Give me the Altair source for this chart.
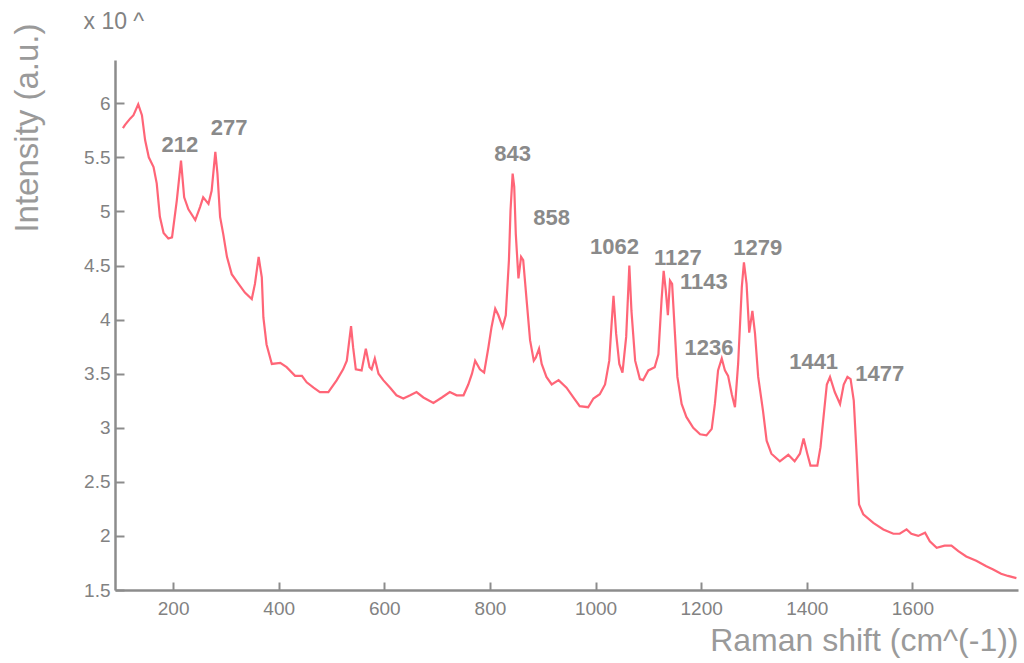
import altair as alt
import pandas as pd

# Raman spectrum (wavenumber in cm^-1, intensity in units of 10^4)
shift = [105, 109, 119, 125, 134, 141, 147, 154, 163, 169, 175, 182, 191, 198,
         207, 215, 221, 229, 242, 251, 257, 267, 273, 280, 284, 289, 295, 302,
         311, 324, 336, 349, 355, 362, 368, 371, 377, 387, 403, 415, 431, 444,
         453, 466, 478, 494, 510, 522, 529, 537, 541, 546, 557, 565, 572, 576,
         582, 589, 598, 611, 623, 636, 649, 661, 674, 693, 709, 724, 737, 750,
         759, 766, 772, 781, 789, 797, 803, 810, 816, 824, 830, 836, 839, 843,
         846, 849, 854, 859, 863, 870, 876, 883, 887, 893, 898, 907, 917, 930,
         945, 958, 970, 986, 996, 1008, 1018, 1026, 1030, 1034, 1039, 1045,
         1051, 1058, 1064, 1068, 1075, 1084, 1090, 1100, 1112, 1119, 1125,
         1129, 1133, 1137, 1141, 1145, 1150, 1155, 1163, 1172, 1185, 1198,
         1210, 1220, 1226, 1232, 1239, 1245, 1251, 1258, 1264, 1270, 1277,
         1281, 1286, 1291, 1297, 1302, 1308, 1317, 1324, 1333, 1349, 1365,
         1377, 1387, 1394, 1401, 1407, 1420, 1426, 1433, 1438, 1444, 1453,
         1463, 1470, 1477, 1483, 1489, 1494, 1499, 1507, 1526, 1545, 1564,
         1576, 1589, 1598, 1611, 1624, 1633, 1646, 1661, 1674, 1687, 1702,
         1721, 1740, 1753, 1768, 1781, 1797]
intensity = [5.77, 5.80, 5.86, 5.89, 5.99, 5.89, 5.66, 5.50, 5.41, 5.26, 4.95,
             4.80, 4.75, 4.76, 5.10, 5.47, 5.13, 5.02, 4.92, 5.04, 5.13, 5.07,
             5.19, 5.55, 5.35, 4.95, 4.79, 4.58, 4.42, 4.33, 4.25, 4.19, 4.33,
             4.58, 4.39, 4.02, 3.77, 3.59, 3.60, 3.56, 3.48, 3.48, 3.42, 3.37,
             3.33, 3.33, 3.44, 3.54, 3.62, 3.94, 3.74, 3.54, 3.53, 3.73, 3.56,
             3.54, 3.64, 3.50, 3.44, 3.37, 3.30, 3.27, 3.30, 3.33, 3.28, 3.23,
             3.28, 3.33, 3.30, 3.30, 3.40, 3.50, 3.62, 3.54, 3.51, 3.74, 3.93,
             4.10, 4.04, 3.93, 4.04, 4.55, 5.01, 5.35, 5.23, 4.79, 4.38, 4.58,
             4.55, 4.15, 3.81, 3.62, 3.65, 3.73, 3.59, 3.47, 3.40, 3.44, 3.37,
             3.28, 3.20, 3.19, 3.27, 3.31, 3.40, 3.62, 3.93, 4.22, 3.87, 3.59,
             3.51, 3.84, 4.50, 4.08, 3.62, 3.45, 3.44, 3.53, 3.56, 3.68, 4.18,
             4.45, 4.27, 4.04, 4.36, 4.33, 3.90, 3.47, 3.22, 3.10, 3.00, 2.94,
             2.93, 2.99, 3.22, 3.53, 3.64, 3.53, 3.48, 3.31, 3.19, 3.59, 4.30,
             4.53, 4.33, 3.88, 4.08, 3.87, 3.47, 3.16, 2.88, 2.76, 2.69, 2.75,
             2.69, 2.76, 2.90, 2.76, 2.65, 2.65, 2.82, 3.16, 3.40, 3.47, 3.33,
             3.22, 3.40, 3.47, 3.45, 3.25, 2.79, 2.29, 2.20, 2.12, 2.06, 2.02,
             2.02, 2.06, 2.02, 2.00, 2.03, 1.95, 1.89, 1.91, 1.91, 1.86, 1.81,
             1.77, 1.72, 1.69, 1.65, 1.63, 1.61]

# Peak annotations and where their labels sit (data coordinates)
peak_text = ["212", "277", "843", "858", "1062", "1127", "1143", "1236",
             "1279", "1441", "1477"]
label_x = [213, 306, 843, 917, 1036, 1156, 1205, 1215, 1307, 1413, 1538]
label_y = [5.61, 5.77, 5.53, 4.94, 4.67, 4.57, 4.35, 3.74, 4.66, 3.61, 3.50]

x_ticks = [200, 400, 600, 800, 1000, 1200, 1400, 1600]
y_ticks = [1.5, 2, 2.5, 3, 3.5, 4, 4.5, 5, 5.5, 6]

spectrum = pd.DataFrame({"shift": shift, "intensity": intensity})
peaks = pd.DataFrame({"label": peak_text, "lx": label_x, "ly": label_y})

W, H = 903, 530
AXIS_GREY = "#8c8c8c"
TEXT_GREY = "#9a9a9a"
TICK_LABEL = "#828282"

xs = alt.Scale(domain=[90, 1800], nice=False, zero=False)
ys = alt.Scale(domain=[1.5, 6.4], nice=False, zero=False)

line = alt.Chart(spectrum).mark_line(
    color="#ff4a5f", strokeWidth=2.2, opacity=0.85
).encode(
    x=alt.X("shift:Q", scale=xs, axis=alt.Axis(
        orient="bottom", values=x_ticks, format="d", ticks=False, grid=False,
        domainColor=AXIS_GREY, domainWidth=2.5,
        labelFont="Liberation Sans", labelFontSize=19, labelColor=TICK_LABEL,
        labelPadding=9,
        title="Raman shift (cm^(-1))", titleFont="Liberation Sans",
        titleFontSize=32, titleFontWeight="normal", titleColor=TEXT_GREY,
        titleAnchor="end", titleAlign="right", titleX=W, titleY=50,
        titleBaseline="middle")),
    y=alt.Y("intensity:Q", scale=ys, axis=alt.Axis(
        orient="left", values=y_ticks, format="~g", ticks=False, grid=False,
        domainColor=AXIS_GREY, domainWidth=2.5,
        labelFont="Liberation Sans", labelFontSize=19, labelColor=TICK_LABEL,
        labelPadding=5,
        title="Intensity (a.u.)", titleFont="Liberation Sans",
        titleFontSize=33, titleFontWeight="normal", titleColor=TEXT_GREY,
        titleAngle=270, titleAlign="right", titleBaseline="middle",
        titleX=-88, titleY=-37)),
)

# invisible copy of the trace that carries the inward-pointing tick marks
# and the exponent note above the vertical axis
inner_ticks = alt.Chart(spectrum).mark_line(strokeOpacity=0).encode(
    x=alt.X("shift:Q", scale=xs, axis=alt.Axis(
        orient="bottom", values=x_ticks, offset=-8, tickSize=8, tickWidth=2,
        tickColor=AXIS_GREY, labels=False, domain=False, grid=False,
        title=None)),
    y=alt.Y("intensity:Q", scale=ys, axis=alt.Axis(
        orient="left", values=y_ticks, offset=-9, tickSize=9, tickWidth=2,
        tickColor=AXIS_GREY, labels=False, domain=False, grid=False,
        title="x 10 ^", titleFont="Liberation Sans", titleFontSize=23,
        titleFontWeight="normal", titleColor=TICK_LABEL, titleAngle=0,
        titleAlign="left", titleBaseline="middle", titleX=-41, titleY=-39)),
)

labels = alt.Chart(peaks).mark_text(
    font="Liberation Sans", fontSize=22, fontWeight="bold", color="#8a8a8a",
    align="center", baseline="middle"
).encode(
    x=alt.X("lx:Q", scale=xs, axis=None),
    y=alt.Y("ly:Q", scale=ys, axis=None),
    text="label:N",
)

chart = alt.layer(line, inner_ticks, labels).resolve_axis(
    x="independent", y="independent"
).properties(
    width=W, height=H,
    padding={"left": 115, "right": 6, "top": 60, "bottom": 73},
    autosize=alt.AutoSizeParams(type="none"),
    background="white",
).configure_view(stroke=None)

chart.save("out.html", embed_options={"renderer": "svg", "actions": False})
